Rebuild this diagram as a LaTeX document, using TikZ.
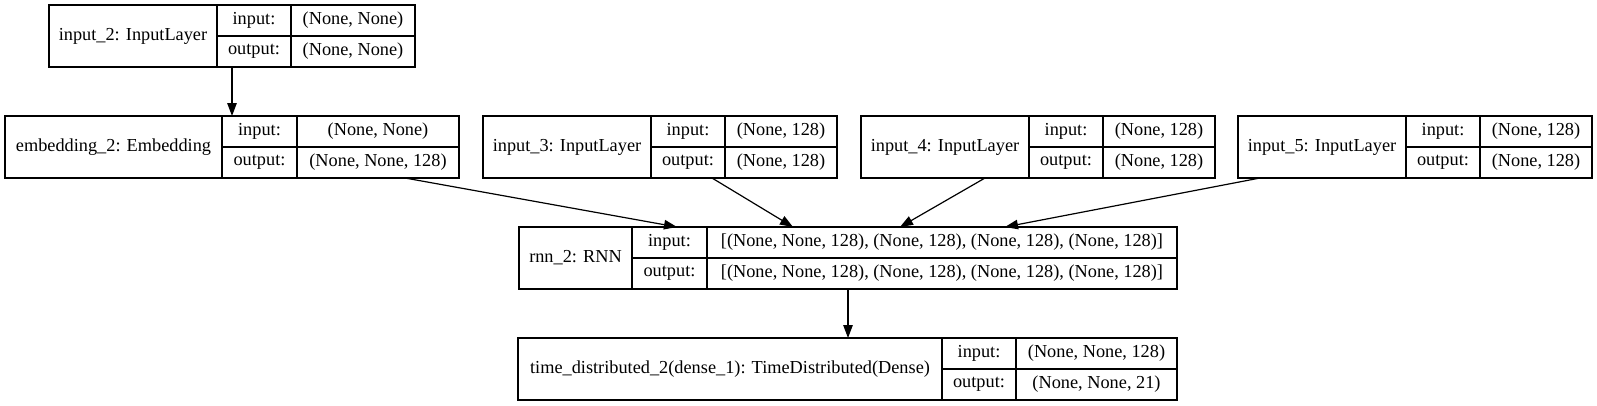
\documentclass[tikz,border=0pt]{standalone}
\usepackage{fontspec}
\setmainfont{Liberation Serif}
\usetikzlibrary{arrows.meta,positioning}

\tikzset{
  namecell/.style={draw, line width=1.2pt, minimum height=62pt, inner sep=0pt, outer sep=0pt, anchor=north west},
  labcell/.style={draw, line width=1.2pt, minimum height=31pt, inner sep=0pt, outer sep=0pt, anchor=north west},
  edge/.style={-{Triangle[length=13pt,width=9.5pt]}, line width=1.2pt}
}

\begin{document}
\begin{tikzpicture}[x=1pt, y=-1pt, font=\fontsize{18.3}{22}\selectfont]
    \useasboundingbox (0,0) rectangle (1597,405);

    % input_2
    \node[namecell, minimum width=168pt] (in2) at (49,5) {input\_2: InputLayer};
    \node[labcell, minimum width=74pt] (in2lin) at (in2.north east) {input:};
    \node[labcell, minimum width=74pt] (in2lout) at (in2lin.south west) {output:};
    \node[labcell, minimum width=124pt] (in2vin) at (in2lin.north east) {(None, None)};
    \node[labcell, minimum width=124pt] (in2vout) at (in2lout.north east) {(None, None)};

    % embedding_2
    \node[namecell, minimum width=217pt] (emb) at (5,116) {embedding\_2: Embedding};
    \node[labcell, minimum width=75pt] (emblin) at (emb.north east) {input:};
    \node[labcell, minimum width=75pt] (emblout) at (emblin.south west) {output:};
    \node[labcell, minimum width=162pt] (embvin) at (emblin.north east) {(None, None)};
    \node[labcell, minimum width=162pt] (embvout) at (emblout.north east) {(None, None, 128)};

    % input_3
    \node[namecell, minimum width=168pt] (in3) at (483,116) {input\_3: InputLayer};
    \node[labcell, minimum width=74pt] (in3lin) at (in3.north east) {input:};
    \node[labcell, minimum width=74pt] (in3lout) at (in3lin.south west) {output:};
    \node[labcell, minimum width=112pt] (in3vin) at (in3lin.north east) {(None, 128)};
    \node[labcell, minimum width=112pt] (in3vout) at (in3lout.north east) {(None, 128)};

    % input_4
    \node[namecell, minimum width=168pt] (in4) at (861,116) {input\_4: InputLayer};
    \node[labcell, minimum width=74pt] (in4lin) at (in4.north east) {input:};
    \node[labcell, minimum width=74pt] (in4lout) at (in4lin.south west) {output:};
    \node[labcell, minimum width=112pt] (in4vin) at (in4lin.north east) {(None, 128)};
    \node[labcell, minimum width=112pt] (in4vout) at (in4lout.north east) {(None, 128)};

    % input_5
    \node[namecell, minimum width=168pt] (in5) at (1238,116) {input\_5: InputLayer};
    \node[labcell, minimum width=74pt] (in5lin) at (in5.north east) {input:};
    \node[labcell, minimum width=74pt] (in5lout) at (in5lin.south west) {output:};
    \node[labcell, minimum width=112pt] (in5vin) at (in5lin.north east) {(None, 128)};
    \node[labcell, minimum width=112pt] (in5vout) at (in5lout.north east) {(None, 128)};

    % rnn_2
    \node[namecell, minimum width=113pt] (rnn) at (519,227) {rnn\_2: RNN};
    \node[labcell, minimum width=75pt] (rnnlin) at (rnn.north east) {input:};
    \node[labcell, minimum width=75pt] (rnnlout) at (rnnlin.south west) {output:};
    \node[labcell, minimum width=470pt] (rnnvin) at (rnnlin.north east) {[(None, None, 128), (None, 128), (None, 128), (None, 128)]};
    \node[labcell, minimum width=470pt] (rnnvout) at (rnnlout.north east) {[(None, None, 128), (None, 128), (None, 128), (None, 128)]};

    % time_distributed_2
    \node[namecell, minimum width=424pt] (td) at (518,338) {time\_distributed\_2(dense\_1): TimeDistributed(Dense)};
    \node[labcell, minimum width=74pt] (tdlin) at (td.north east) {input:};
    \node[labcell, minimum width=74pt] (tdlout) at (tdlin.south west) {output:};
    \node[labcell, minimum width=161pt] (tdvin) at (tdlin.north east) {(None, None, 128)};
    \node[labcell, minimum width=161pt] (tdvout) at (tdlout.north east) {(None, None, 21)};

    % Collegamenti
    \draw[edge] ([xshift=-22pt]in2lout.south) -- ([xshift=-27.5pt]emblin.north);
    \draw[edge] ([xshift=27pt]embvout.south) -- ([xshift=7.5pt]rnnlin.north);
    \draw[edge] ([xshift=24pt]in3lout.south) -- ([xshift=-149pt]rnnvin.north);
    \draw[edge] ([xshift=40pt]in4.south) -- ([xshift=-42pt]rnnvin.north);
    \draw[edge] ([xshift=-62pt]in5.south) -- ([xshift=63pt]rnnvin.north);
    \draw[edge] ([xshift=-94pt]rnnvout.south) -- ([xshift=118pt]td.north);
\end{tikzpicture}
\end{document}
